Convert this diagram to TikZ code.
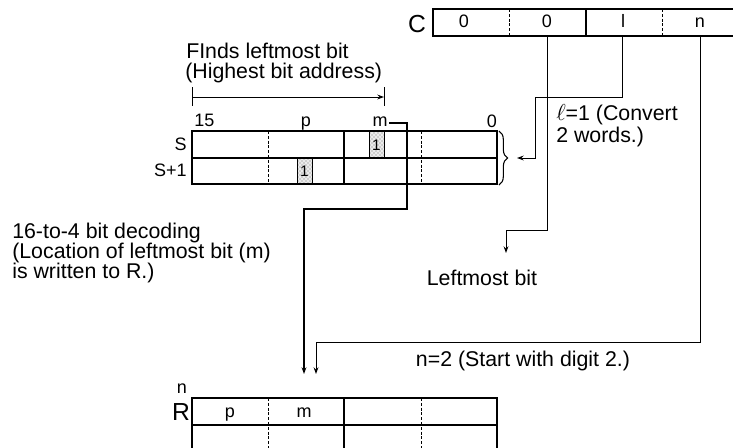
\documentclass[tikz,border=0pt]{standalone}
\usepackage{fontspec}
\setmainfont{Liberation Sans}
\usetikzlibrary{arrows.meta,decorations.pathreplacing,patterns}
\begin{document}
\begin{tikzpicture}[x=0.75pt,y=-0.75pt,
  box/.style={line width=0.9pt},
  sep/.style={line width=0.7pt, dash pattern=on 2.2pt off 1.4pt},
  conn/.style={line width=0.75pt},
  thick conn/.style={line width=1.1pt},
  tip/.style={-{Stealth[length=5pt,width=3.6pt]}},
  lbl/.style={font=\fontsize{16}{15}\selectfont, inner sep=0pt},
  cell/.style={font=\fontsize{13.5}{13.5}\selectfont, inner sep=0pt},
  big/.style={font=\fontsize{18.5}{18.5}\selectfont, inner sep=0pt},
  one/.style={font=\fontsize{11.5}{11.5}\selectfont, inner sep=0pt},
  shadefill/.style={fill=black!8},
  shadedots/.style={pattern=crosshatch dots, pattern color=black!55},
  shadeline/.style={draw=black, line width=0.6pt},
]
\useasboundingbox (0,0) rectangle (733,447);
\clip (0,0) rectangle (733,447);

% ---------- C word ----------
\draw[box] (745,9) -- (433,9) -- (433,36) -- (745,36);
\draw[sep] (509.5,9) -- (509.5,36);
\draw[box] (586,9) -- (586,36);
\draw[sep] (662.5,9) -- (662.5,36);
\node[big, anchor=base] (Clab) at (417,32) {C};
\node[cell, anchor=base] (c1) at (464,27.5) {0};
\node[cell, anchor=base] (c2) at (547,27.5) {0};
\node[cell, anchor=base] (c3) at (623,27.5) {l};
\node[cell, anchor=base] (c4) at (700,27.5) {n};
\coordinate (c2b) at (547,36);
\coordinate (c3b) at (622,36);
\coordinate (c4b) at (700,36);

% ---------- S / S+1 words ----------
\fill[shadefill] (369,131) rectangle (384,158);
\fill[shadefill] (297,158) rectangle (312,184);
\fill[shadedots] (369,131) rectangle (384,158);
\fill[shadedots] (297,158) rectangle (312,184);
\draw[shadeline] (369,131) rectangle (384,158);
\draw[shadeline] (297,158) rectangle (312,184);
\node[one] (b1) at (376.5,145) {1};
\node[one] (b2) at (304.5,171.5) {1};
\draw[box] (192,131) rectangle (497,184);
\draw[box] (192,158) -- (497,158);
\draw[sep] (268,131) -- (268,184);
\draw[box] (344,131) -- (344,184);
\draw[sep] (421,131) -- (421,184);
\node[cell, anchor=base east] (Slab) at (187,150) {S};
\node[cell, anchor=base east] (S1lab) at (187,176) {S+1};
\node[cell, anchor=base west] (b15) at (194,126) {15};
\node[cell, anchor=base] (bp) at (306,126) {p};
\node[cell, anchor=base] (bm) at (380,126) {m};
\node[cell, anchor=base] (b0) at (492,127) {0};
\draw[decorate, decoration={brace, amplitude=6.5pt}, line width=0.8pt] (499,131) -- (499,185);
\coordinate (brtip) at (517,158);

% ---------- top label and dimension line ----------
\node[lbl, anchor=base west] (find1) at (186,58) {FInds leftmost bit};
\node[lbl, anchor=base west] (find2) at (185,78) {(Highest bit address)};
\coordinate (dimL) at (192,97);
\coordinate (dimR) at (384,97);
\draw[conn] (192,87) -- (192,106);
\draw[conn] (384,87) -- (384,106);
\draw[conn, tip] (dimL) -- (dimR);

% ---------- labels ----------
\node[lbl, anchor=base west] (ell1) at (556,120) {$\ell$=1 (Convert};
\node[lbl, anchor=base west] (ell2) at (556,142) {2 words.)};
\node[lbl, anchor=base west] (dec1) at (12,238) {16-to-4 bit decoding};
\node[lbl, anchor=base west] (dec2) at (12,258) {(Location of leftmost bit (m)};
\node[lbl, anchor=base west] (dec3) at (12,278) {is written to R.)};
\node[lbl, anchor=base] (lmb) at (482,285) {Leftmost bit};
\node[lbl, anchor=base] (nlab) at (523,366) {n=2 (Start with digit 2.)};

% ---------- R word ----------
\draw[box] (192,460) -- (192,398) -- (497,398) -- (497,460);
\draw[box] (192,425) -- (497,425);
\draw[sep] (268,398) -- (268,460);
\draw[box] (344,398) -- (344,460);
\draw[sep] (421,398) -- (421,460);
\node[big, anchor=base] (Rlab) at (181,420) {R};
\node[cell, anchor=base] (Rn) at (182,393) {n};
\node[cell, anchor=base] (rp) at (230,417) {p};
\node[cell, anchor=base] (rm) at (304,417) {m};
\coordinate (Rin1) at (304,374);
\coordinate (Rin2) at (316,374);
\coordinate (lmbtop) at (506,253);

% ---------- connectors ----------
\draw[thick conn, tip] (389,123) -- (407,123) -- (407,209) -- (304,209) -- (Rin1);
\draw[conn, tip] (c2b) -- (547,230) -- (506,230) -- (lmbtop);
\draw[conn, tip] (c3b) -- (622,97) -- (535,97) -- (535,158) -- (brtip);
\draw[conn, tip] (c4b) -- (700,342) -- (316,342) -- (Rin2);
\end{tikzpicture}
\end{document}
